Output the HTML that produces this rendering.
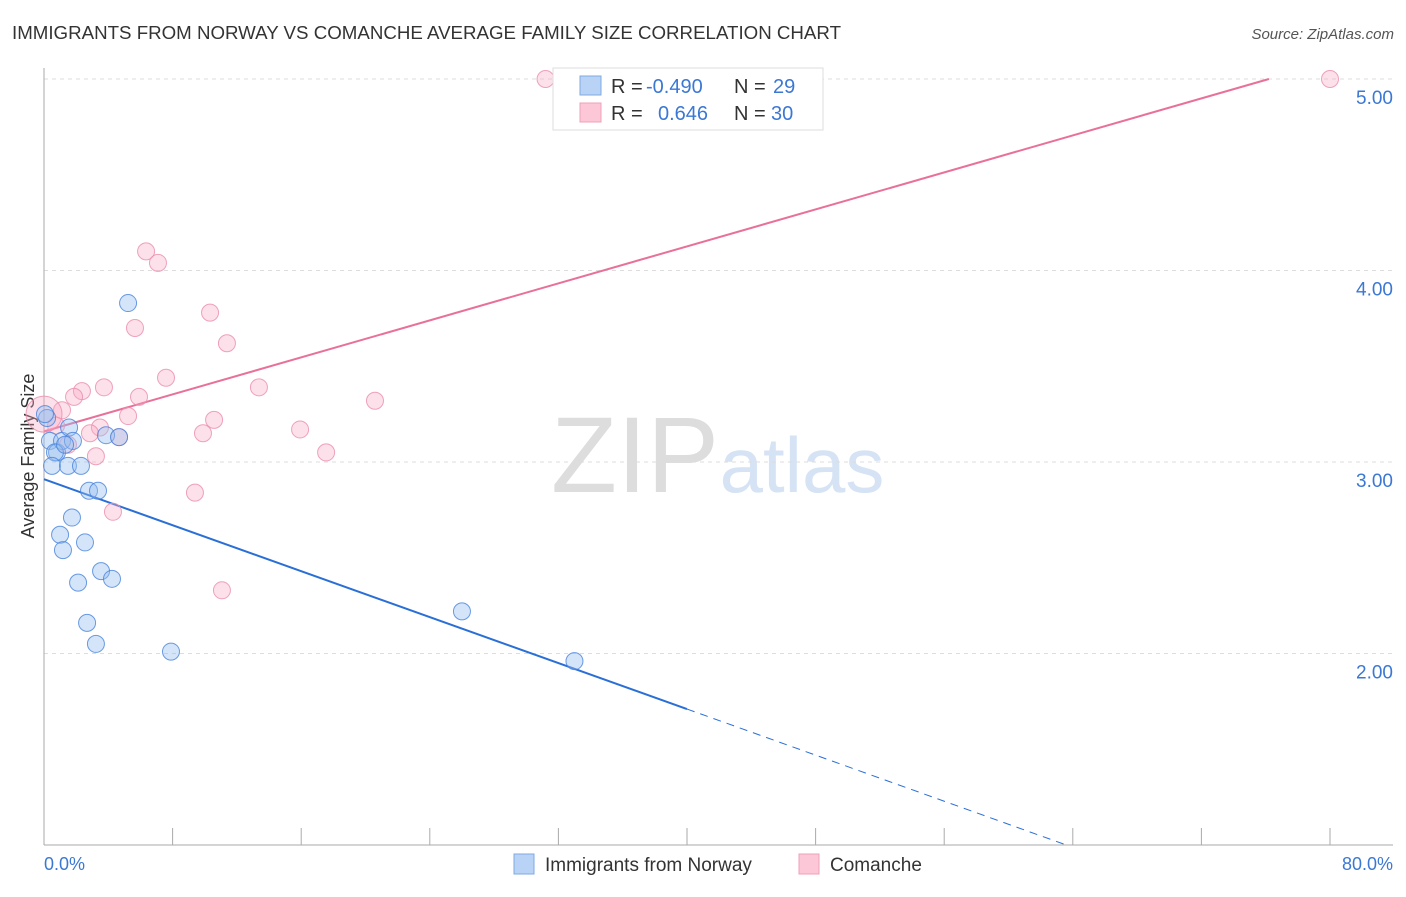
<!DOCTYPE html>
<html><head><meta charset="utf-8"><style>
body{margin:0;background:#fff;font-family:"Liberation Sans",sans-serif;}
svg text{font-family:"Liberation Sans",sans-serif;}
</style></head><body>
<svg width="1406" height="892" viewBox="0 0 1406 892">
<text x="12" y="39" font-size="18" fill="#333" textLength="829" lengthAdjust="spacingAndGlyphs">IMMIGRANTS FROM NORWAY VS COMANCHE AVERAGE FAMILY SIZE CORRELATION CHART</text>
<text x="1394" y="39" font-size="15" fill="#555" font-style="italic" text-anchor="end">Source: ZipAtlas.com</text>
<g>
<text x="635" y="492" font-family="Liberation Serif" font-size="108" fill="#ddd" text-anchor="middle">ZIP</text>
<text x="802" y="492" font-size="78" fill="#d5e3f5" text-anchor="middle">atlas</text>
</g>
<g id="grid"></g>
<line x1="44" y1="68" x2="44" y2="845" stroke="#aaa"/>
<line x1="44" y1="845" x2="1393" y2="845" stroke="#aaa"/>
<g id="ticks"></g>
<text x="44" y="870" font-size="18" fill="#3b78d4">0.0%</text>
<text x="1393" y="870" font-size="18" fill="#3b78d4" text-anchor="end">80.0%</text>
<text transform="translate(34,456) rotate(-90)" font-size="18" fill="#333" text-anchor="middle">Average Family Size</text>
<g id="lines"></g>
<g id="points"></g>
<g>
<rect x="553" y="68" width="270" height="62" fill="#fff" stroke="#ddd"/>
<rect x="580" y="76" width="21" height="19" fill="#b8d3f5" stroke="#7fa9e0"/>
<rect x="580" y="103" width="21" height="19" fill="#fcc8d8" stroke="#f0a0b8"/>
<text x="611" y="93" font-size="20" fill="#333">R = <tspan x="646" fill="#3b78d4">-0.490</tspan><tspan x="734">N = </tspan><tspan x="773" fill="#3b78d4">29</tspan></text>
<text x="611" y="120" font-size="20" fill="#333">R = <tspan x="658" fill="#3b78d4">0.646</tspan><tspan x="734">N = </tspan><tspan x="771" fill="#3b78d4">30</tspan></text>
</g>
<g>
<rect x="514" y="854" width="20" height="20" fill="#b8d3f5" stroke="#7fa9e0"/>
<text x="545" y="871" font-size="19" fill="#333">Immigrants from Norway</text>
<rect x="799" y="854" width="20" height="20" fill="#fcc8d8" stroke="#f0a0b8"/>
<text x="830" y="871" font-size="19" fill="#333">Comanche</text>
</g>
</svg>
<script>
const yTicks=[2,3,4,5];
const yTickLabels=["2.00","3.00","4.00","5.00"];
const blueX=[5.23,0.19,0.37,0.81,1.12,0.68,1.56,1.80,0.50,1.49,2.30,3.86,4.67,2.80,3.36,1.74,1.00,2.55,1.18,3.55,4.23,2.12,2.68,3.23,7.90,26.0,33.0,0.06,1.31];
const blueY=[3.83,3.23,3.11,3.05,3.11,3.05,3.18,3.11,2.98,2.98,2.98,3.14,3.13,2.85,2.85,2.71,2.62,2.58,2.54,2.43,2.39,2.37,2.16,2.05,2.01,2.22,1.96,3.25,3.09];
const pinkX=[31.2,80.0,6.35,7.09,5.66,10.33,11.38,7.59,2.36,3.73,1.87,1.12,0.75,5.91,5.23,13.37,20.59,10.58,9.89,3.48,2.86,4.67,1.49,3.23,15.93,17.55,9.39,4.29,11.07,0.0];
const pinkY=[5.0,5.0,4.10,4.04,3.70,3.78,3.62,3.44,3.37,3.39,3.34,3.27,3.19,3.34,3.24,3.39,3.32,3.22,3.15,3.18,3.15,3.13,3.09,3.03,3.17,3.05,2.84,2.74,2.33,3.25];
const blueLine=[0,2.91,40,1.71,63.6,1.0];
const pinkLine=[0,3.16,76.2,5.0];
const NS="http://www.w3.org/2000/svg";
const X=v=>44+v/80*1286;
const Y=v=>79+(5-v)*191.5;
function mk(tag,attrs,parent){const e=document.createElementNS(NS,tag);for(const k in attrs)e.setAttribute(k,attrs[k]);document.getElementById(parent).appendChild(e);return e;}
yTicks.forEach((t,i)=>{
 const l=mk('line',{x1:44,x2:1393,y1:Y(t),y2:Y(t),stroke:'#ddd','stroke-dasharray':'4,4'},'grid');
 
 
 const tx=mk('text',{x:1393,y:Y(t)+25,'font-size':19,fill:'#3b78d4','text-anchor':'end'},'grid');
 tx.textContent=yTickLabels[i];
 
 
});
for(let i=1;i<=10;i++){
 const l=mk('line',{x1:X(i*8),x2:X(i*8),y1:828,y2:845,stroke:'#aaa'},'ticks');
 
 
}
let l1=mk('line',{x1:X(blueLine[0]),y1:Y(blueLine[1]),x2:X(blueLine[2]),y2:Y(blueLine[3]),stroke:'#2a6fd6','stroke-width':2},'lines');


let l2=mk('line',{x1:X(blueLine[2]),y1:Y(blueLine[3]),x2:X(blueLine[4]),y2:Y(blueLine[5]),stroke:'#2a6fd6','stroke-width':1,'stroke-dasharray':'8,6'},'lines');


let l3=mk('line',{x1:X(pinkLine[0]),y1:Y(pinkLine[1]),x2:X(pinkLine[2]),y2:Y(pinkLine[3]),stroke:'#e8709a','stroke-width':2},'lines');


pinkX.forEach((x,i)=>{
 const c=mk('circle',{cx:X(x),cy:Y(pinkY[i]),r:i==pinkX.length-1?18:8.5,fill:'rgba(248,170,195,0.35)',stroke:'rgba(235,140,170,0.8)','stroke-width':1},'points');
 
 
});
blueX.forEach((x,i)=>{
 const c=mk('circle',{cx:X(x),cy:Y(blueY[i]),r:8.5,fill:'rgba(150,190,240,0.4)',stroke:'rgba(70,130,220,0.8)','stroke-width':1},'points');
 
 
});
</script>
</body></html>
